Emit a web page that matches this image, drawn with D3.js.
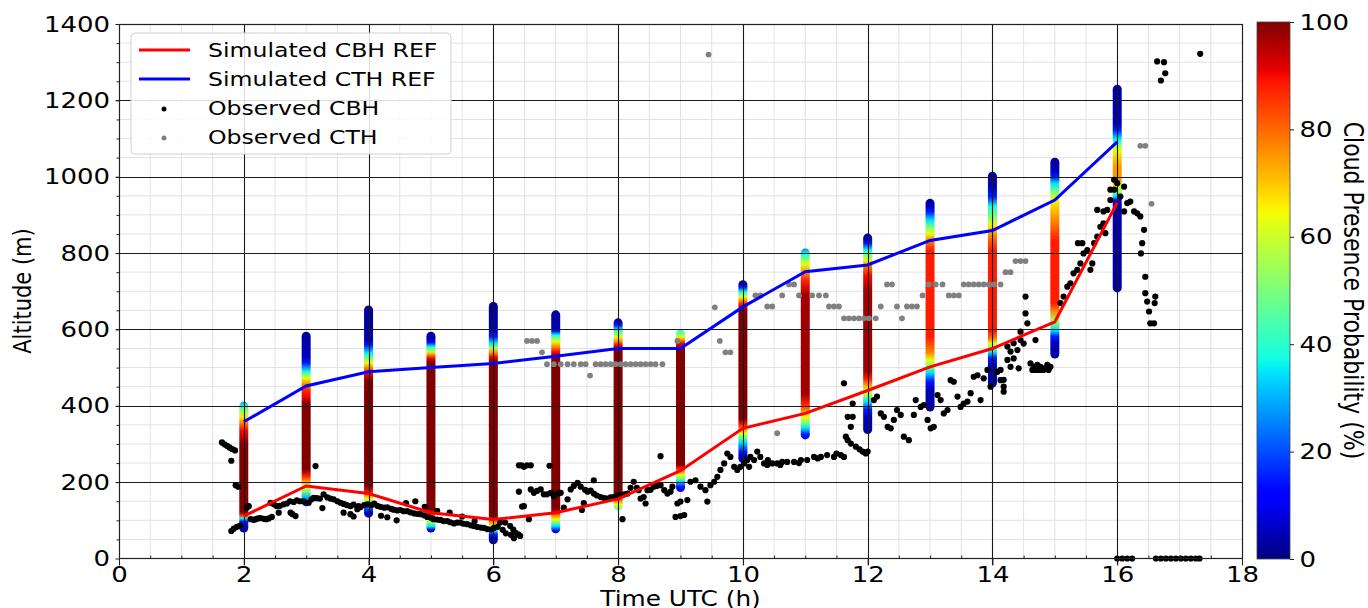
<!DOCTYPE html>
<html>
<head>
<meta charset="utf-8">
<script src="https://cdn.jsdelivr.net/npm/d3@7"></script>
<style>
  body { margin: 0; background: #fff; }
  text { font-family: "DejaVu Sans", sans-serif; fill: #000; }
</style>
</head>
<body>
<svg id="drawing_region"></svg>
<script>
// simulated profiles, one column per hour
const hours = [2, 3, 4, 5, 6, 7, 8, 9, 10, 11, 12, 13, 14, 15, 16];
const simCBH = [111, 190, 170, 120, 102, 120, 156, 230, 341, 380, 440, 502, 550, 620, 932];
const simCTH = [358, 452, 489, 500, 511, 530, 550, 550, 659, 751, 769, 833, 859, 939, 1091];

// [altitude (m), cloud presence probability (%)] along each column, bottom to top
const colProfiles = [
    [[68,3],[84,8],[97,15],[106,40],[112,85],[122,100],[300,100],[335,90],[352,80],[370,66],[385,55],[398,40],[411,28]],
    [[137,8],[147,15],[160,30],[176,50],[190,63],[203,75],[216,88],[233,100],[405,100],[425,90],[440,87],[455,77],[473,63],[489,38],[512,15],[528,5],[594,2]],
    [[107,3],[121,8],[130,20],[138,35],[148,50],[156,63],[165,75],[174,88],[190,100],[465,100],[486,90],[500,77],[512,63],[525,50],[538,36],[559,15],[572,5],[663,2]],
    [[68,3],[75,8],[84,35],[93,50],[102,63],[110,75],[119,88],[128,100],[515,100],[525,90],[533,77],[541,60],[554,38],[565,15],[572,5],[594,2]],
    [[37,2],[55,5],[63,15],[72,35],[85,60],[94,75],[102,88],[111,100],[515,100],[528,90],[540,75],[551,55],[564,35],[581,15],[598,5],[672,2]],
    [[66,5],[72,10],[85,35],[95,50],[102,63],[111,75],[119,88],[128,100],[528,100],[541,90],[554,77],[568,63],[577,50],[585,38],[595,15],[603,5],[650,2]],
    [[126,45],[135,55],[141,63],[149,75],[158,88],[171,100],[546,100],[559,90],[568,77],[580,63],[590,50],[598,38],[611,15],[620,5],[629,3]],
    [[174,12],[188,15],[202,35],[210,50],[219,63],[228,75],[236,88],[245,100],[550,100],[564,90],[572,77],[580,63],[588,50],[600,38]],
    [[250,3],[267,5],[280,15],[305,35],[318,50],[328,63],[338,75],[350,88],[365,100],[650,100],[664,90],[675,77],[685,63],[692,50],[698,38],[711,15],[720,5],[729,3]],
    [[312,12],[325,15],[342,35],[355,50],[370,63],[385,75],[405,88],[430,97],[690,97],[727,88],[748,77],[770,63],[785,50],[798,38],[812,25]],
    [[326,3],[370,5],[390,15],[410,35],[425,50],[440,63],[455,75],[470,88],[490,97],[700,97],[740,90],[768,77],[781,63],[795,50],[807,38],[825,15],[835,5],[851,3]],
    [[385,3],[441,5],[465,15],[487,35],[502,50],[520,63],[540,77],[580,88],[807,88],[833,77],[851,63],[868,50],[886,35],[908,15],[925,5],[942,3]],
    [[448,3],[505,5],[525,15],[540,35],[552,50],[563,63],[575,77],[595,88],[807,88],[843,78],[873,65],[896,50],[922,38],[948,15],[974,5],[1013,3]],
    [[524,3],[564,5],[581,15],[598,35],[624,55],[650,78],[668,88],[833,88],[870,80],[904,73],[938,65],[960,50],[982,35],[1000,15],[1016,5],[1050,3]],
    [[697,3],[930,5],[940,15],[948,35],[960,50],[974,63],[991,75],[1026,75],[1069,63],[1085,50],[1100,35],[1122,15],[1139,5],[1241,3]]
];

// observations [hour, altitude (m)]
const obsCBH = [
    [1.65,304],[1.69,299],[1.73,295],[1.77,291],[1.81,287],[1.86,283],[1.8,256],[1.87,192],[1.91,188],[1.8,72],[1.84,78],[1.89,83],[1.94,86],
    [2.05,133],[2.08,137],[2.11,103],[2.16,101],[2.19,103],[2.23,105],[2.27,106],[2.32,104],[2.36,103],[2.4,105],[2.45,109],
    [2.43,146],[2.48,142],[2.53,137],[2.58,138],[2.64,142],[2.69,144],[2.74,150],[2.8,148],[2.85,152],[2.9,150],[2.96,150],[2.56,120],[2.75,120],[2.83,111],[2.78,116],
    [3.04,146],[3.09,155],[3.12,159],[3.17,158],[3.22,157],[3.28,168],[3.34,160],[3.39,157],[3.44,155],[3.5,150],[3.55,146],[3.6,143],[3.65,140],[3.71,137],[3.76,141],[3.82,129],[3.87,134],
    [3.15,242],[3.26,132],[3.6,120],[3.71,116],[3.76,110],[3.84,137],[3.93,140],
    [3.98,142],[4.05,140],[4.09,144],[4.14,138],[4.19,135],[4.25,133],[4.3,134],[4.36,130],[4.4,128],[4.46,126],[4.51,127],[4.56,124],[4.62,124],[4.67,121],[4.73,118],[4.78,117],[4.83,116],[4.89,113],[4.94,109],[5.0,107],
    [5.04,103],[5.1,102],[5.15,101],[5.2,98],[5.26,98],[5.31,95],[5.37,92],[5.42,94],[5.47,94],[5.52,91],[5.58,90],[5.64,87],[5.69,85],[5.74,83],[5.8,81],[5.85,80],[5.9,77],[5.96,76],[6.01,80],
    [4.2,112],[4.3,108],[4.6,145],[4.75,150],[5.1,125],[5.3,120],[5.5,110],[5.7,98],[4.45,100],[4.9,135],
    [6.07,83],[6.11,94],[6.15,75],[6.19,94],[6.2,66],[6.27,85],[6.28,62],[6.32,76],[6.33,53],[6.35,68],[6.4,63],[6.43,59],
    [6.41,244],[6.45,244],[6.49,240],[6.54,244],[6.6,244],[6.9,243],[6.41,175],[6.46,136],[6.49,137],[6.57,103],
    [6.6,181],[6.65,172],[6.7,177],[6.76,181],[6.81,168],[6.86,168],[6.92,172],[6.97,163],[7.03,170],[7.08,172],[7.13,133],[7.19,155],[7.24,181],[7.29,190],[7.35,198],
    [7.4,188],[7.45,145],[7.42,127],[7.47,180],[7.51,175],[7.56,178],[7.61,205],[7.61,170],[7.66,165],[7.72,161],[7.78,158],[7.83,157],[7.88,160],[7.93,161],[7.98,165],
    [8.04,166],[8.1,168],[8.15,170],[8.2,185],[8.25,201],[8.3,185],[8.33,179],[8.36,157],[8.41,161],[8.44,144],[8.47,179],[8.52,180],[8.57,188],[8.62,190],[8.68,192],[8.68,268],
    [8.74,179],[8.79,170],[8.84,175],[8.87,188],[8.92,109],[8.95,144],[9.0,111],[9.0,149],[9.06,114],[9.11,153],[8.07,103],
    [9.16,201],[9.24,205],[9.32,188],[9.4,179],[9.43,149],[9.48,192],[9.54,201],[9.59,214],[9.64,232],[9.7,249],[9.75,275],[9.8,266],[9.86,240],[9.91,232],[9.96,240],
    [10.02,249],[10.07,258],[10.12,266],[10.18,258],[10.23,280],[10.28,266],[10.34,249],[10.39,245],[10.47,249],[10.55,249],[10.63,253],[10.71,253],[10.82,253],[10.93,258],
    [11.03,258],[11.14,266],[11.25,266],[11.35,271],[11.46,266],[11.57,271],[11.62,266],[10.1,240],[10.4,258],[10.6,245],[10.9,250],[11.2,262],[11.5,275],
    [11.62,459],[11.68,371],[11.76,371],[11.73,345],[11.76,406],[11.65,319],[11.68,310],[11.73,301],[11.81,293],[11.87,286],[11.92,280],[11.97,275],[12.0,280],
    [12.1,415],[12.15,424],[12.21,380],[12.26,371],[12.32,345],[12.37,341],[12.42,363],[12.47,389],[12.53,376],[12.58,319],[12.66,310],[12.74,376],[12.77,415],[12.85,397],[12.9,402],[12.96,363],
    [13.01,341],[13.06,345],[13.12,428],[13.17,415],[13.22,380],[13.28,389],[13.33,467],[13.38,463],[13.44,424],[13.49,397],[13.54,406],[13.6,411],[13.65,433],[13.7,476],[13.76,480],
    [13.81,415],[13.86,472],[13.92,494],[13.97,450],[14.08,489],[14.13,467],
    [14.13,494],[14.18,468],[14.18,450],[14.18,437],[14.24,520],[14.29,502],[14.34,524],[14.24,555],[14.29,542],[14.34,564],[14.4,546],[14.42,498],[14.45,572],[14.45,594],[14.5,563],
    [14.53,642],[14.53,686],[14.56,616],[14.61,511],[14.64,494],[14.66,494],[14.69,572],[14.72,494],[14.77,494],[14.82,494],[14.88,498],[14.9,494],
    [14.67,502],[14.72,507],[14.77,502],[14.83,498],[14.88,507],[14.93,502],
    [15.09,669],[15.14,686],[15.2,712],[15.25,721],[15.3,747],[15.36,756],[15.37,826],[15.41,773],[15.44,826],[15.46,799],[15.52,808],[15.57,756],[15.6,773],[15.63,826],
    [15.68,843],[15.68,913],[15.73,869],[15.78,878],[15.78,909],[15.81,852],[15.84,913],[15.89,939],[15.89,966],[15.95,966],[15.95,992],[16.0,983],[16.05,948],[16.11,974],
    [16.11,909],[16.16,931],[16.21,935],[16.27,909],[16.32,904],[16.37,896],[16.43,861],[16.4,826],[16.38,799],[16.45,738],[16.45,695],[16.48,673],[16.51,647],[16.53,616],
    [16.59,616],[16.6,669],[16.61,686],
    [16.64,1302],[16.75,1300],[16.77,1271],[16.7,1252],[17.33,1322],
    [16.0,0],[16.08,0],[16.16,0],[16.24,0],[16.62,0],[16.7,0],[16.78,0],[16.86,0],[16.94,0],[17.02,0],[17.1,0],[17.18,0],[17.26,0],[17.32,0]
];

const obsCTH = [
    [6.54,570],[6.62,570],[6.7,570],[6.78,540],[6.86,509],[6.97,509],[7.08,509],[7.19,509],[7.29,509],[7.4,509],[7.48,509],[7.55,479],
    [7.64,509],[7.72,509],[7.8,509],[7.88,509],[7.96,509],[8.04,509],[8.12,509],[8.2,509],[8.28,509],[8.36,509],[8.44,509],[8.52,509],[8.6,509],[8.71,509],
    [8.95,570],[9.45,1320],[9.55,658],[9.63,570],[9.72,540],[9.8,540],[10.2,689],[10.28,689],[10.39,660],[10.47,660],[10.55,328],[10.63,689],[10.74,718],[10.82,718],
    [10.9,689],[11.11,689],[11.22,689],[11.33,689],[11.38,660],[11.46,660],[11.54,660],[11.62,629],[11.7,629],[11.78,629],[11.86,629],[11.94,629],[12.02,629],[12.13,629],
    [12.21,660],[12.31,718],[12.39,718],[12.47,660],[12.55,629],[12.63,660],[12.71,660],[12.79,660],[12.88,689],[12.98,718],[13.09,718],[13.2,718],[13.3,689],[13.38,689],
    [13.46,689],[13.54,718],[13.62,718],[13.7,718],[13.78,718],[13.86,718],[13.94,718],[14.02,718],[14.13,718],[14.21,750],[14.29,750],[14.37,779],[14.45,779],[14.53,779],
    [16.37,1081],[16.45,1081],[16.55,929]
];

const xTicks = [0, 2, 4, 6, 8, 10, 12, 14, 16, 18];
const yTicks = [0, 200, 400, 600, 800, 1000, 1200, 1400];
const cbTicks = [0, 20, 40, 60, 80, 100];
const legendLabels = ["Simulated CBH REF", "Simulated CTH REF", "Observed CBH", "Observed CTH"];

// matplotlib 'jet'
const jR = d3.scaleLinear().domain([0, 0.35, 0.66, 0.89, 1]).range([0, 0, 1, 1, 0.5]).clamp(true);
const jG = d3.scaleLinear().domain([0, 0.125, 0.375, 0.64, 0.91, 1]).range([0, 0, 1, 1, 0, 0]).clamp(true);
const jB = d3.scaleLinear().domain([0, 0.11, 0.34, 0.65, 1]).range([0.5, 1, 1, 0, 0]).clamp(true);
const jet = t => d3.rgb(jR(t) * 255, jG(t) * 255, jB(t) * 255).formatHex();

const SX = 1.18;  // the figure is slightly stretched horizontally

const config = {
    width: 1368,
    height: 608,
    margin: {top: 24, right: 126, bottom: 50, left: 119}
};

const svg = d3.select('#drawing_region')
    .attr('width', config.width)
    .attr('height', config.height);
const defs = svg.append('defs');

const x0 = config.margin.left, x1 = config.width - config.margin.right;
const y0 = config.height - config.margin.bottom, y1 = config.margin.top;

const xscale = d3.scaleLinear().domain([0, 18]).range([x0, x1]);
const yscale = d3.scaleLinear().domain([0, 1400]).range([y0 + 0.5, y1]);

// minor grid
const minorX = d3.range(0, 18.01, 0.5).filter(v => v % 2 !== 0);
const minorY = d3.range(0, 1400.1, 50).filter(v => v % 200 !== 0);
const grid = svg.append('g');
grid.selectAll('.mx').data(minorX).join('line')
    .attr('x1', d => xscale(d)).attr('x2', d => xscale(d))
    .attr('y1', y1).attr('y2', y0)
    .attr('stroke', '#e2e2e2').attr('stroke-width', 1);
grid.selectAll('.my').data(minorY).join('line')
    .attr('x1', x0).attr('x2', x1)
    .attr('y1', d => yscale(d)).attr('y2', d => yscale(d))
    .attr('stroke', '#e2e2e2').attr('stroke-width', 1);

// simulated probability columns
const colW = 9;
hours.forEach((h, i) => {
    const prof = colProfiles[i];
    const lo = prof[0][0], hi = prof[prof.length - 1][0];
    const grad = defs.append('linearGradient')
        .attr('id', 'col' + i)
        .attr('gradientUnits', 'userSpaceOnUse')
        .attr('x1', 0).attr('x2', 0)
        .attr('y1', yscale(lo)).attr('y2', yscale(hi));
    grad.selectAll('stop').data(prof).join('stop')
        .attr('offset', d => (d[0] - lo) / (hi - lo))
        .attr('stop-color', d => jet(d[1] / 100));
    svg.append('rect')
        .attr('x', xscale(h) - colW / 2)
        .attr('width', colW)
        .attr('y', yscale(hi))
        .attr('height', yscale(lo) - yscale(hi))
        .attr('rx', colW / 2)
        .attr('fill', `url(#col${i})`);
});

// major grid
const major = svg.append('g');
major.selectAll('.gx').data(xTicks.slice(1, -1)).join('line')
    .attr('x1', d => Math.round(xscale(d)) + 0.5).attr('x2', d => Math.round(xscale(d)) + 0.5)
    .attr('y1', y1).attr('y2', y0 + 7)
    .attr('stroke', '#1a1a1a').attr('stroke-width', 1.1);
major.selectAll('.gy').data(yTicks.slice(1, -1)).join('line')
    .attr('x1', x0 - 3).attr('x2', x1)
    .attr('y1', d => Math.round(yscale(d)) + 0.5).attr('y2', d => Math.round(yscale(d)) + 0.5)
    .attr('stroke', '#1a1a1a').attr('stroke-width', 1.1);
grid.lower();

// observations
svg.append('g').selectAll('circle').data(obsCTH).join('circle')
    .attr('cx', d => xscale(d[0])).attr('cy', d => yscale(d[1]))
    .attr('r', 2.9).attr('fill', '#808080');
svg.append('g').selectAll('circle').data(obsCBH).join('circle')
    .attr('cx', d => xscale(d[0])).attr('cy', d => yscale(d[1]))
    .attr('r', 3.1).attr('fill', '#000');

// simulated lines
const line = d3.line().x(d => xscale(d[0])).y(d => yscale(d[1]));
svg.append('path').datum(hours.map((h, i) => [h, simCBH[i]]))
    .attr('d', line).attr('fill', 'none').attr('stroke', '#ff0000').attr('stroke-width', 3);
svg.append('path').datum(hours.map((h, i) => [h, simCTH[i]]))
    .attr('d', line).attr('fill', 'none').attr('stroke', '#0000ff').attr('stroke-width', 3);

// frame
svg.append('rect')
    .attr('x', x0 + 0.5).attr('y', y1 + 0.5)
    .attr('width', x1 - x0).attr('height', y0 - y1)
    .attr('fill', 'none').attr('stroke', '#222').attr('stroke-width', 1.2);

// axes
const xaxis_group = svg.append('g').attr('transform', `translate(0, ${y0 + 0.5})`)
    .call(d3.axisBottom(xscale).tickValues(xTicks).tickSize(7).tickPadding(1).tickFormat(d3.format('d')));
const yaxis_group = svg.append('g').attr('transform', `translate(${x0 + 0.5}, 0)`)
    .call(d3.axisLeft(yscale).tickValues(yTicks).tickSize(4).tickPadding(4).tickFormat(d3.format('d')));
svg.append('g').attr('transform', `translate(0, ${y0 + 0.5})`)
    .call(d3.axisBottom(xscale).tickValues(minorX).tickSize(-3).tickFormat(''));
svg.append('g').attr('transform', `translate(${x0 + 0.5}, 0)`)
    .call(d3.axisLeft(yscale).tickValues(minorY).tickSize(3).tickFormat(''));

svg.selectAll('.domain').remove();
svg.selectAll('.tick line').attr('stroke', '#222');
[xaxis_group, yaxis_group].forEach(g => g.selectAll('text')
    .attr('font-size', 22)
    .attr('font-family', 'DejaVu Sans')
    .attr('transform', `scale(${SX},1)`));

svg.append('text')
    .attr('transform', `translate(${(x0 + x1) / 2}, 606) scale(${SX},1)`)
    .attr('text-anchor', 'middle')
    .attr('font-size', 21)
    .text('Time UTC (h)');
svg.append('text')
    .attr('transform', `translate(31, ${(y0 + y1) / 2}) rotate(-90) scale(1,${SX})`)
    .attr('text-anchor', 'middle')
    .attr('font-size', 21)
    .text('Altitude (m)');

// colour bar
const cb = {x: 1257, w: 33, top: 22, bottom: 559};
const cbscale = d3.scaleLinear().domain([0, 100]).range([cb.bottom, cb.top]);
const cbGrad = defs.append('linearGradient')
    .attr('id', 'cbgrad').attr('x1', 0).attr('x2', 0).attr('y1', 1).attr('y2', 0);
cbGrad.selectAll('stop').data(d3.range(0, 1.0001, 0.01)).join('stop')
    .attr('offset', d => d).attr('stop-color', d => jet(d));
svg.append('rect')
    .attr('x', cb.x).attr('y', cb.top)
    .attr('width', cb.w).attr('height', cb.bottom - cb.top)
    .attr('fill', 'url(#cbgrad)')
    .attr('stroke', '#444').attr('stroke-width', 0.8);
const cbaxis = svg.append('g').attr('transform', `translate(${cb.x + cb.w}, 0)`)
    .call(d3.axisRight(cbscale).tickValues(cbTicks).tickSize(4).tickPadding(4));
cbaxis.select('.domain').remove();
cbaxis.selectAll('.tick line').attr('stroke', '#222');
cbaxis.selectAll('text')
    .attr('font-size', 22)
    .attr('font-family', 'DejaVu Sans')
    .attr('transform', `scale(${SX},1)`);
svg.append('text')
    .attr('transform', `translate(1344, ${(cb.top + cb.bottom) / 2}) rotate(90) scale(1,${SX})`)
    .attr('text-anchor', 'middle')
    .attr('font-size', 22)
    .text('Cloud Presence Probability (%)');

// legend
const legend = svg.append('g').attr('transform', 'translate(131, 33)');
legend.append('rect')
    .attr('width', 320).attr('height', 121).attr('rx', 4)
    .attr('fill', '#fff').attr('fill-opacity', 0.85)
    .attr('stroke', '#d0d0d0');
const rowY = [17, 46, 75, 104];
legendLabels.forEach((lab, i) => {
    const g = legend.append('g').attr('transform', `translate(0, ${rowY[i]})`);
    if (i < 2) {
        g.append('line').attr('x1', 8).attr('x2', 59).attr('y1', 0).attr('y2', 0)
            .attr('stroke', i === 0 ? '#ff0000' : '#0000ff').attr('stroke-width', 3);
    } else {
        g.append('circle').attr('cx', 33).attr('cy', 1).attr('r', 2.5)
            .attr('fill', i === 2 ? '#000' : '#808080');
    }
    g.append('text')
        .attr('transform', `translate(77, 7) scale(${SX},1)`)
        .attr('font-size', 20)
        .text(lab);
});
</script>
</body>
</html>
